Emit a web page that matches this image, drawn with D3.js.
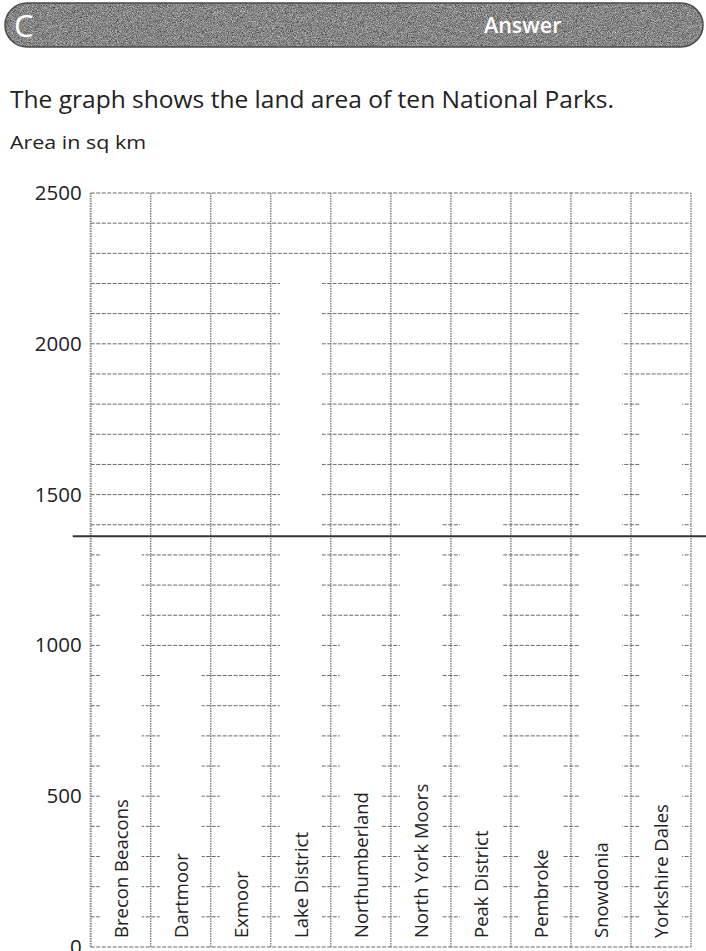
<!DOCTYPE html>
<html>
<head>
<meta charset="utf-8">
<script src="https://cdn.jsdelivr.net/npm/d3@7"></script>
<style>
  body { margin: 0; background: #fff; }
  svg { display: block; }
</style>
</head>
<body>
<div id="chart"></div>
<script>
"use strict";

// land area of ten National Parks (sq km)
const parks = ["Brecon Beacons", "Dartmoor", "Exmoor", "Lake District", "Northumberland",
    "North York Moors", "Peak District", "Pembroke", "Snowdonia", "Yorkshire Dales"];
const areas = [1351, 956, 693, 2292, 1049, 1436, 1438, 620, 2142, 1850];
const yTicks = [0, 500, 1000, 1500, 2000, 2500];
const gridStep = 100;
const yMax = 2500;
// the dark scanner seam that runs across the printed sheet
const seamValue = 1362;

const msm = {
    width: 706,
    height: 951,
    left: 90.7,
    right: 691,
    top: 193,
    bottom: 947
};

const font = "'Open Sans', 'Noto Sans', sans-serif";

const svg = d3.select("#chart")
    .append("svg")
    .attr("width", msm.width)
    .attr("height", msm.height);

// --- header strip ---
const defs = svg.append("defs");
const grain = defs.append("filter")
    .attr("id", "grain")
    .attr("x", 0).attr("y", 0).attr("width", 1).attr("height", 1)
    .attr("color-interpolation-filters", "sRGB");
grain.append("feTurbulence")
    .attr("type", "fractalNoise")
    .attr("baseFrequency", 1.2)
    .attr("numOctaves", 2)
    .attr("seed", 4)
    .attr("result", "noise");
grain.append("feColorMatrix")
    .attr("in", "noise")
    .attr("type", "matrix")
    .attr("values", "0.33 0.33 0.33 0 0  0.33 0.33 0.33 0 0  0.33 0.33 0.33 0 0  0 0 0 0 1")
    .attr("result", "gray");
const tone = grain.append("feComponentTransfer").attr("in", "gray").attr("result", "tone");
["feFuncR", "feFuncG", "feFuncB"].forEach(function (f) {
    tone.append(f).attr("type", "linear").attr("slope", 1.3).attr("intercept", -0.12);
});
grain.append("feComposite")
    .attr("in", "tone")
    .attr("in2", "SourceGraphic")
    .attr("operator", "in");

svg.append("rect")
    .attr("x", 5).attr("y", 3)
    .attr("width", 698).attr("height", 44)
    .attr("rx", 22)
    .attr("fill", "#888")
    .attr("filter", "url(#grain)");
svg.append("rect")
    .attr("x", 5).attr("y", 3)
    .attr("width", 698).attr("height", 44)
    .attr("rx", 22)
    .attr("fill", "none")
    .attr("stroke", "#4a4a4a")
    .attr("stroke-width", 1.5);

svg.append("text")
    .attr("x", 14).attr("y", 37)
    .attr("fill", "#fff")
    .style("font-family", font)
    .style("font-size", "31px")
    .text("C");

svg.append("text")
    .attr("x", 484).attr("y", 33)
    .attr("fill", "#fff")
    .style("font-family", font)
    .style("font-weight", 600)
    .style("font-size", "21.5px")
    .text("Answer");

svg.append("text")
    .attr("x", 10).attr("y", 108)
    .attr("fill", "#222")
    .attr("textLength", 604)
    .attr("lengthAdjust", "spacingAndGlyphs")
    .style("font-family", font)
    .style("font-size", "23px")
    .text("The graph shows the land area of ten National Parks.");

svg.append("text")
    .attr("x", 10).attr("y", 149)
    .attr("fill", "#222")
    .attr("textLength", 136)
    .attr("lengthAdjust", "spacingAndGlyphs")
    .style("font-family", font)
    .style("font-size", "18px")
    .text("Area in sq km");

// --- scales ---
const xScale = d3.scaleBand()
    .domain(parks)
    .range([msm.left, msm.right])
    .paddingInner(0.3)
    .paddingOuter(0.15);

const yScale = d3.scaleLinear()
    .domain([0, yMax])
    .range([msm.bottom, msm.top]);

const gridValues = d3.range(0, yMax + gridStep, gridStep);
const columnEdges = d3.range(0, parks.length + 1)
    .map((i) => msm.left + i * xScale.step());

// horizontal grid every 100 sq km
svg.append("g")
    .selectAll("line")
    .data(gridValues)
    .enter()
    .append("line")
    .attr("x1", msm.left)
    .attr("x2", msm.right)
    .attr("y1", (d) => yScale(d))
    .attr("y2", (d) => yScale(d))
    .attr("stroke", "#444")
    .attr("stroke-width", 1)
    .attr("stroke-dasharray", "4,1.5")
    .attr("opacity", 0.8);

// vertical column lines
svg.append("g")
    .selectAll("line")
    .data(columnEdges)
    .enter()
    .append("line")
    .attr("x1", (d) => d)
    .attr("x2", (d) => d)
    .attr("y1", yScale(yMax))
    .attr("y2", yScale(0))
    .attr("stroke", (d, i) => (i === 0 ? "#777" : "#555"))
    .attr("stroke-width", (d, i) => (i === 0 ? 2 : 1.2))
    .attr("stroke-dasharray", "1.5,1")
    .attr("opacity", 0.9);

// bars: plain white, they blank out the grid
svg.append("g")
    .selectAll("rect")
    .data(areas)
    .enter()
    .append("rect")
    .attr("x", (d, i) => xScale(parks[i]))
    .attr("width", xScale.bandwidth())
    .attr("y", (d) => yScale(d))
    .attr("height", (d) => yScale(0) - yScale(d) - 1)
    .attr("fill", "#fff");

// seam across the sheet
svg.append("line")
    .attr("x1", msm.left - 18)
    .attr("x2", msm.width)
    .attr("y1", yScale(seamValue))
    .attr("y2", yScale(seamValue))
    .attr("stroke", "#333")
    .attr("stroke-width", 2);

// y axis labels
const yAxis = d3.axisLeft(yScale)
    .tickValues(yTicks)
    .tickFormat(d3.format("d"))
    .tickSize(0)
    .tickPadding(9);
const yG = svg.append("g")
    .attr("transform", "translate(" + msm.left + ",0)")
    .call(yAxis);
yG.select(".domain").remove();
yG.selectAll("text")
    .attr("fill", "#222")
    .style("font-family", font)
    .style("font-size", "20.5px");

// park names standing up inside the bars
svg.append("g")
    .selectAll("text")
    .data(parks)
    .enter()
    .append("text")
    .attr("transform", (d) => "translate(" + (xScale(d) + xScale.bandwidth() / 2 + 7) + "," +
        (yScale(0) - 9) + ") rotate(-90)")
    .attr("fill", "#222")
    .style("font-family", font)
    .style("font-size", "18.5px")
    .text((d) => d);
</script>
</body>
</html>
